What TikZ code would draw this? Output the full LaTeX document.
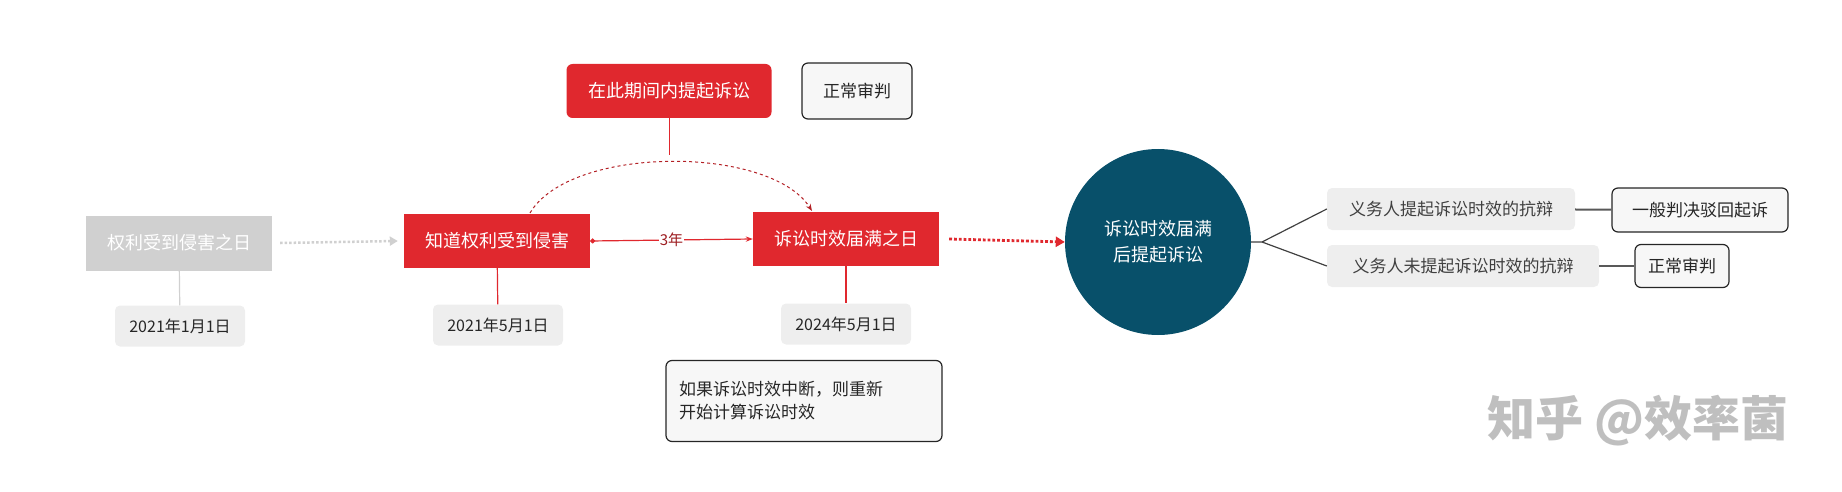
\documentclass[tikz,border=0pt]{standalone}
\usepackage{fontspec}
\setmainfont{Noto Sans CJK SC}
\usetikzlibrary{arrows.meta}
\definecolor{rd}{HTML}{E0282E}
\definecolor{gb}{HTML}{D0D0D0}
\definecolor{lg}{HTML}{EEEEEE}
\definecolor{tl}{HTML}{08506A}
\tikzset{x=1pt,y=-1pt,
 redbox/.style={fill=rd,text=white,minimum width=186,minimum height=54,font=\fontsize{18}{20}\selectfont,inner sep=0},
 datebox/.style={fill=lg,rounded corners=5,minimum width=130,minimum height=41,font=\fontsize{16}{18}\selectfont,text=black!85,inner sep=0},
 wbox/.style={draw=black!85,line width=1.2pt,fill=black!3,rounded corners=6,font=\fontsize{17}{19}\selectfont,text=black!85,inner sep=0},
 gbox/.style={fill=lg,rounded corners=5,font=\fontsize{17}{19}\selectfont,text=black!75,inner sep=0,minimum height=42},
}
\begin{document}
\begin{tikzpicture}
\useasboundingbox (0,0) rectangle (1842,492);
\node[fill=gb,text=white,minimum width=186,minimum height=55,font=\fontsize{18}{20}\selectfont,inner sep=0] (a) at (179,243) {权利受到侵害之日};
\node[datebox] (ad) at (180,326) {2021年1月1日};
\node[redbox] (b) at (497,241) {知道权利受到侵害};
\node[datebox] (bd) at (498,325) {2021年5月1日};
\node[redbox] (c) at (846,239) {诉讼时效届满之日};
\node[datebox] (cd) at (846,324) {2024年5月1日};
\node[wbox,minimum width=276,minimum height=81,align=left,text width=250] (note) at (804,401) {如果诉讼时效中断，则重新\\[4pt]开始计算诉讼时效};
\node[redbox,rounded corners=6,minimum width=205,minimum height=54] (top) at (669,91) {在此期间内提起诉讼};
\node[wbox,minimum width=110,minimum height=56] (tn) at (857,91) {正常审判};
\draw[gb,line width=1.2pt] (a) -- (ad);
\draw[rd,line width=1.2pt] (b) -- (bd);
\draw[rd,line width=1.2pt] (c) -- (cd);
\coordinate (apex) at (669,155);
\draw[rd,line width=1pt] (top) -- (apex);
\draw[rd!80!black,line width=1pt,dashed,-{Stealth[length=7pt]}] (530,213) .. controls (570,145) and (770,145) .. (812,211);
\draw[gb,line width=2.5pt,dotted,-{Triangle[length=8pt,width=9pt]}] (a.east)++(8,0) -- ([xshift=-6]b.west);
\draw[rd,line width=1.2pt,{Circle[length=5pt]}-{Stealth[length=7pt]}] (b.east) -- node[fill=white,inner sep=1pt,font=\fontsize{15}{17}\selectfont,text=rd!70!black] {3年} (c.west);
\node[circle,fill=tl,minimum size=186,text=white,align=center,font=\fontsize{18}{26}\selectfont,inner sep=0] (d) at (1158,242) {诉讼时效届满\\后提起诉讼};
\draw[rd,line width=2.8pt,dotted,-{Triangle[length=9pt,width=10pt]}] ([xshift=10]c.east) -- (d.west);
\node[gbox,minimum width=248] (e1) at (1451,209) {义务人提起诉讼时效的抗辩};
\node[gbox,minimum width=272] (e2) at (1463,266) {义务人未提起诉讼时效的抗辩};
\node[wbox,minimum width=176,minimum height=44] (f1) at (1700,210) {一般判决驳回起诉};
\node[wbox,minimum width=94,minimum height=43] (f2) at (1682,266) {正常审判};
\coordinate (fk) at (1262,242);
\draw[black!75,line width=1.2pt] (d.east) -- (fk) -- (e1.west);
\draw[black!75,line width=1.2pt] (fk) -- (e2.west);
\draw[black!65,line width=2pt] (e1) -- (f1);
\draw[black!65,line width=2pt] (e2) -- (f2);
\node[text=black!25,font=\fontsize{48}{52}\selectfont\bfseries] (wm) at (1638,421) {知乎 @效率菌};
\end{tikzpicture}
\end{document}
